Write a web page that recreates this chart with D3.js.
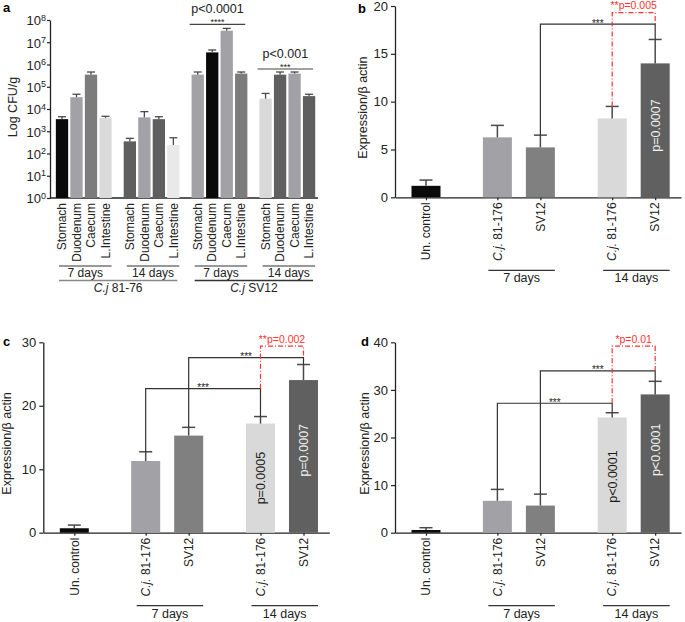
<!DOCTYPE html>
<html><head><meta charset="utf-8">
<script src="https://cdn.jsdelivr.net/npm/d3@7"></script>
<style>body{margin:0;background:#fff} text{font-family:"Liberation Sans",Arial,Helvetica,sans-serif}</style>
</head><body><svg id="c" width="685" height="622"></svg>
<script>
// ---------- Panel a data ----------
const organs = ["Stomach","Duodenum","Caecum","L.Intestine"];
const aDays = ["7 days","14 days","7 days","14 days"];
const aStrains = ["81-76","SV12"];
const aMeans = [
  [3.5e3, 3.4e4, 3.5e5, 4.0e3],
  [3.5e2, 4.2e3, 3.5e3, 2.4e2],
  [3.5e5, 3.5e6, 3.3e7, 3.9e5],
  [2.9e4, 3.5e5, 3.9e5, 3.8e4]
];
const aErrTop = [
  [4.5e3, 4.6e4, 4.6e5, 4.7e3],
  [4.8e2, 7.6e3, 4.5e3, 5.1e2],
  [4.6e5, 4.5e6, 4.2e7, 4.6e5],
  [5.0e4, 4.6e5, 4.6e5, 4.6e4]
];
const aTicks = [1,10,1e2,1e3,1e4,1e5,1e6,1e7,1e8];
const aSig = [{group:2, text:"p<0.0001", stars:"****"}, {group:3, text:"p<0.001", stars:"***"}];

// ---------- Panels b-d data ----------
const exprCats = ["Un. control","C.j. 81-176","SV12","C.j. 81-176","SV12"];
const exprDays = ["7 days","14 days"];
const bMeans = [1.2, 6.27, 5.22, 8.25, 14.0];
const bErr   = [0.6, 1.25, 1.28, 1.25, 2.5];
const cMeans = [0.7, 11.3, 15.3, 17.2, 24.05];
const cErr   = [0.5, 1.45, 1.3, 1.1, 2.45];
const dMeans = [0.57, 6.7, 5.7, 24.2, 29.05];
const dErr   = [0.48, 2.4, 2.4, 1.0, 2.75];
const bTicks = [0,5,10,15,20];
const cTicks = [0,10,20,30];
const dTicks = [0,10,20,30,40];
const bBrackets = [{from:2,to:4,h:18.1,label:"***"}];
const cBrackets = [{from:1,to:3,h:22.7,label:"***"},{from:2,to:4,h:27.6,label:"***"}];
const dBrackets = [{from:1,to:3,h:27.2,label:"***"},{from:2,to:4,h:34.0,label:"***"}];
const bRed = {from:3,to:4,h:19.3,fromBase:9.5,toBase:18.1,label:"**p=0.005"};
const cRed = {from:3,to:4,h:29.4,fromBase:22.7,toBase:27.6,label:"**p=0.002"};
const dRed = {from:3,to:4,h:39.2,fromBase:27.2,toBase:34.0,label:"*p=0.01"};
const bInBar = [{bar:4,text:"p=0.0007",at:7.5}];
const cInBar = [{bar:3,text:"p=0.0005",at:8.6},{bar:4,text:"p=0.0007",at:13.0}];
const dInBar = [{bar:3,text:"p<0.0001",at:11.8},{bar:4,text:"p<0.0001",at:17.4}];

// ---------- styles ----------
const aColors = [
  ["#0a0a0a","#a2a2a6","#7c7c7c","#dadada"],
  ["#5f5f5f","#a2a2a6","#5f5f5f","#e9e9e9"],
  ["#a2a2a6","#0a0a0a","#a2a2a6","#7c7c7c"],
  ["#d9d9d9","#5f5f5f","#a2a2a6","#5f5f5f"]
];
const exprColors = ["#0a0a0a","#a2a2a6","#808080","#d9d9d9","#606060"];
const inBarColors = {3:"#1a1a1a",4:"#f2f2f2"};
const AX = "#222";
const WH = "#4a4a4a";
const RED = "#ff3333";

const svg = d3.select("#c");

function styleAxis(g){
  g.select(".domain").attr("stroke",AX).attr("stroke-width",1.3);
  g.selectAll(".tick line").attr("stroke",AX).attr("stroke-width",1.2);
  g.selectAll(".tick text").attr("fill","#222").style("font-family",'"Liberation Sans",Arial,sans-serif');
}

// ================= Panel a =================
(function(){
  const g = svg.append("g");
  const y = d3.scaleLog().domain([1,1e8]).range([198,20]);
  const slot = 14.5, gap = 0.68;
  const x = d3.scaleLinear().domain([0,1]).range([62,62+slot]);
  const pos = (gi,i) => x(gi*(4+gap)+i);
  const bw = 12.3;

  const yAxis = d3.axisLeft(y).tickValues(aTicks).tickSize(3).tickSizeOuter(0).tickFormat("");
  const ya = g.append("g").attr("transform","translate(50,0)").call(yAxis);
  styleAxis(ya);
  ya.selectAll(".tick").append("text")
    .attr("x",-4).attr("dy","0.38em").attr("text-anchor","end")
    .attr("fill","#222").style("font-size","13px")
    .each(function(d){
      const t = d3.select(this);
      t.append("tspan").text("10");
      t.append("tspan").attr("dy","-0.55em").style("font-size","9px").text(Math.round(Math.log10(d)));
    });

  g.append("line").attr("x1",50).attr("x2",318).attr("y1",y(1)).attr("y2",y(1))
    .attr("stroke",AX).attr("stroke-width",1.3);

  aMeans.forEach((grp,gi)=>{
    grp.forEach((v,i)=>{
      const cx = pos(gi,i);
      g.append("rect").attr("x",cx-bw/2).attr("width",bw)
        .attr("y",y(v)).attr("height",y(1)-y(v)).attr("fill",aColors[gi][i]);
      const et = aErrTop[gi][i];
      g.append("line").attr("x1",cx).attr("x2",cx).attr("y1",y(v)).attr("y2",y(et))
        .attr("stroke",WH).attr("stroke-width",1.3);
      g.append("line").attr("x1",cx-4).attr("x2",cx+4).attr("y1",y(et)).attr("y2",y(et))
        .attr("stroke",WH).attr("stroke-width",1.3);
      g.append("text").attr("transform",`translate(${cx},203) rotate(-90)`)
        .attr("dy","0.35em").attr("text-anchor","end").style("font-size","12px").attr("fill","#222")
        .text(organs[i]);
    });
    const x1 = pos(gi,0)-3, x2 = pos(gi,3)+6;
    g.append("line").attr("x1",x1).attr("x2",x2).attr("y1",266).attr("y2",266).attr("stroke","#333").attr("stroke-width",1.2);
    g.append("text").attr("x",(x1+x2)/2).attr("y",277).attr("text-anchor","middle")
      .style("font-size","12px").attr("fill","#222").text(aDays[gi]);
  });
  aStrains.forEach((s,si)=>{
    const x1 = pos(si*2,0)-3, x2 = pos(si*2+1,3)+4;
    g.append("line").attr("x1",x1).attr("x2",x2).attr("y1",280.5).attr("y2",280.5)
      .attr("stroke", si===0 ? "#888" : "#333").attr("stroke-width",1.3);
    const t = g.append("text").attr("x",(x1+x2)/2).attr("y",292).attr("text-anchor","middle")
      .style("font-size","12px").attr("fill","#222");
    t.append("tspan").style("font-style","italic").text("C.j");
    t.append("tspan").text(" "+s);
  });
  aSig.forEach(s=>{
    const gi = s.group;
    const x1 = pos(gi,0)-8, x2 = pos(gi,3)+4;
    const lineY = gi===2 ? 24.3 : 69;
    g.append("line").attr("x1",x1).attr("x2",x2).attr("y1",lineY).attr("y2",lineY).attr("stroke","#444").attr("stroke-width",1.2);
    g.append("text").attr("x",(x1+x2)/2).attr("y",lineY+1).attr("text-anchor","middle")
      .style("font-size","9px").attr("fill","#222").text(s.stars);
    g.append("text").attr("x",(x1+x2)/2).attr("y",lineY-11.5).attr("text-anchor","middle")
      .style("font-size","12.5px").attr("fill","#222").text(s.text);
  });
  g.append("text").attr("transform","translate(17,107) rotate(-90)").attr("text-anchor","middle")
    .style("font-size","12.5px").attr("fill","#222").text("Log CFU/g");
  g.append("text").attr("x",3).attr("y",12).style("font-size","13px").style("font-weight","bold").text("a");
})();

// ================= Panels b, c, d =================
function exprPanel(opt){
  const g = svg.append("g");
  const y = d3.scaleLinear().domain([0,opt.max]).range([opt.y0,opt.y1]);
  const x = d3.scaleLinear().domain([0,1]).range([opt.x0+31, opt.x0+31+43]);
  const positions = [0,1.66,2.66,4.33,5.33];
  const bw = 29;

  const ya = g.append("g").attr("transform",`translate(${opt.x0},0)`)
    .call(d3.axisLeft(y).tickValues(opt.ticks).tickSize(4).tickSizeOuter(0).tickPadding(3));
  styleAxis(ya);
  ya.selectAll(".tick text").style("font-size","13px");

  const xEnd = opt.x0+286;
  const xs = d3.scaleLinear().domain([x.invert(opt.x0), x.invert(xEnd)]).range([opt.x0,xEnd]);
  const xa = g.append("g").attr("transform",`translate(0,${opt.y0})`)
    .call(d3.axisBottom(xs).tickValues(positions).tickSize(3).tickSizeOuter(0).tickFormat(""));
  styleAxis(xa);

  opt.means.forEach((v,i)=>{
    const cx = x(positions[i]);
    g.append("rect").attr("x",cx-bw/2).attr("width",bw).attr("y",y(v)).attr("height",y(0)-y(v)).attr("fill",exprColors[i]);
    const et = v+opt.err[i];
    g.append("line").attr("x1",cx).attr("x2",cx).attr("y1",y(v)).attr("y2",y(et)).attr("stroke",WH).attr("stroke-width",1.5);
    g.append("line").attr("x1",cx-6.5).attr("x2",cx+6.5).attr("y1",y(et)).attr("y2",y(et)).attr("stroke",WH).attr("stroke-width",1.5);
    const t = g.append("text").attr("transform",`translate(${cx},${opt.y0+5}) rotate(-90)`)
      .attr("dy","0.35em").attr("text-anchor","end").style("font-size","12px").attr("fill","#222");
    const lab = exprCats[i];
    if(lab.startsWith("C.j.")){
      t.append("tspan").style("font-style","italic").text("C.j.");
      t.append("tspan").text(lab.slice(4));
    } else t.text(lab);
  });
  exprDays.forEach((d,k)=>{
    const i1 = 1+2*k, i2 = 2+2*k;
    const x1 = x(positions[i1])-9, x2 = x(positions[i2])+14.5;
    g.append("line").attr("x1",x1).attr("x2",x2).attr("y1",opt.y0+73).attr("y2",opt.y0+73).attr("stroke","#333").attr("stroke-width",1.2);
    g.append("text").attr("x",(x1+x2)/2).attr("y",opt.y0+85).attr("text-anchor","middle")
      .style("font-size","12.5px").attr("fill","#222").text(d);
  });
  opt.brackets.forEach(b=>{
    const xa1 = x(positions[b.from]), xa2 = x(positions[b.to]);
    const b1 = opt.means[b.from]+opt.err[b.from], b2 = opt.means[b.to]+opt.err[b.to];
    g.append("path").attr("d",d3.line()([[xa1,y(b1)],[xa1,y(b.h)],[xa2,y(b.h)],[xa2,y(b2)]]))
      .attr("fill","none").attr("stroke","#333").attr("stroke-width",1.2);
    g.append("text").attr("x",(xa1+xa2)/2).attr("y",y(b.h)+2.5).attr("text-anchor","middle")
      .style("font-size","10px").attr("fill","#222").text(b.label);
  });
  const r = opt.red;
  const rx1 = x(positions[r.from]), rx2 = x(positions[r.to]);
  g.append("path").attr("d",d3.line()([[rx1,y(r.fromBase)],[rx1,y(r.h)],[rx2,y(r.h)],[rx2,y(r.toBase)]]))
    .attr("fill","none").attr("stroke",RED).attr("stroke-width",1.2).attr("stroke-dasharray","5,2,1,2");
  g.append("text").attr("x",(rx1+rx2)/2).attr("y",y(r.h)-3.5).attr("text-anchor","middle")
    .style("font-size","10.5px").attr("fill",RED).text(r.label);
  opt.inBar.forEach(p=>{
    const cx = x(positions[p.bar]);
    g.append("text").attr("transform",`translate(${cx},${y(p.at)}) rotate(-90)`)
      .attr("dy","0.36em").attr("text-anchor","middle").style("font-size","12.5px")
      .attr("fill",inBarColors[p.bar]).text(p.text);
  });
  g.append("text").attr("transform",`translate(${opt.ylx},${(opt.y0+opt.y1)/2+6}) rotate(-90)`)
    .attr("text-anchor","middle").style("font-size","12.5px").attr("fill","#222").text("Expression/β actin");
  g.append("text").attr("x",opt.lx).attr("y",opt.ly).style("font-size","13px").style("font-weight","bold").text(opt.letter);
}

exprPanel({x0:395,y0:197.3,y1:6,max:20,ticks:bTicks,means:bMeans,err:bErr,brackets:bBrackets,red:bRed,inBar:bInBar,letter:"b",lx:358,ly:13,ylx:367});
exprPanel({x0:43.3,y0:532.7,y1:342.3,max:30,ticks:cTicks,means:cMeans,err:cErr,brackets:cBrackets,red:cRed,inBar:cInBar,letter:"c",lx:3,ly:346,ylx:11});
exprPanel({x0:395,y0:532.7,y1:342.3,max:40,ticks:dTicks,means:dMeans,err:dErr,brackets:dBrackets,red:dRed,inBar:dInBar,letter:"d",lx:361,ly:346,ylx:369});
</script>
</body></html>
